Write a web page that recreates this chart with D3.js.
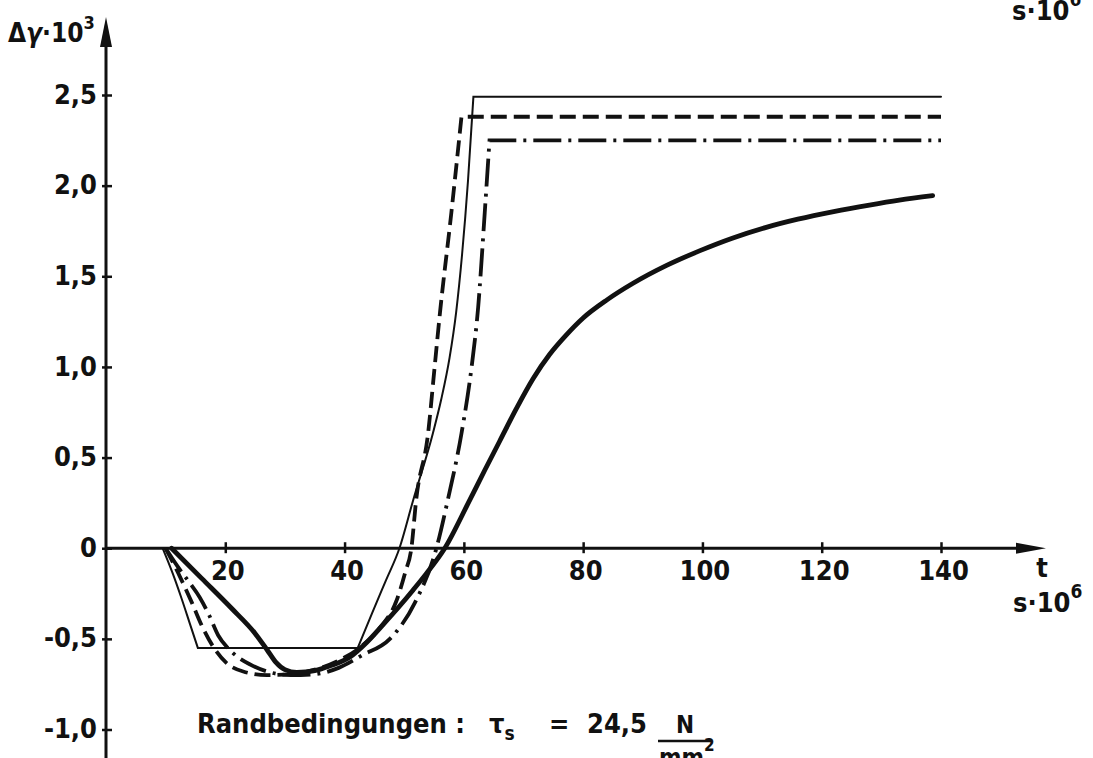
<!DOCTYPE html>
<html>
<head>
<meta charset="utf-8">
<script src="https://cdn.jsdelivr.net/npm/d3@7"></script>
<style>
  body { margin: 0; background: #fff; }
  svg text {
    font-family: "DejaVu Sans Condensed", "DejaVu Sans", sans-serif;
    font-stretch: condensed;
    font-weight: bold;
    fill: #111;
  }
</style>
</head>
<body>
<svg id="chart" width="1093" height="758"></svg>
<script>

// tick values
var xTicks = [20, 40, 60, 80, 100, 120, 140];
var yTicks = [-1.0, -0.5, 0, 0.5, 1.0, 1.5, 2.0, 2.5];

// curves: [t in s*10^6, dgamma*10^3], split into pieces at the sharp corners
var thinSolid = [
    [[9.5, 0], [11.2, -0.14], [12.7, -0.28], [14.1, -0.42], [15.4, -0.55]],
    [[15.4, -0.55], [42.2, -0.55]],
    [[42.2, -0.55], [44.6, -0.36], [46.9, -0.18], [49.2, 0], [51.5, 0.265], [54.8, 0.633],
     [56.2, 0.82], [57.6, 1.05], [58.7, 1.3], [59.7, 1.62], [60.7, 2.03], [61.6, 2.49]],
    [[61.6, 2.49], [140, 2.49]]
];

var dashed = [
    [[10, 0], [12, -0.13], [14.4, -0.30], [16.1, -0.43], [18.1, -0.55], [20.1, -0.63], [23, -0.68],
     [27, -0.70], [31, -0.695], [35, -0.67], [39, -0.62], [42.5, -0.55], [45.9, -0.44], [48.7, -0.29],
     [50.2, -0.13], [51.2, 0], [52.0, 0.265], [54.0, 0.633], [55.1, 1.0], [56.0, 1.3], [57.9, 1.85],
     [59.6, 2.38]],
    [[59.6, 2.38], [140, 2.38]]
];

var dashDot = [
    [[10, 0], [12, -0.1], [14, -0.19], [15.7, -0.27], [17.3, -0.37], [18.8, -0.48], [20.4, -0.55],
     [22.1, -0.6], [24.1, -0.64], [27, -0.68], [31, -0.70], [35, -0.695], [39, -0.66], [43, -0.59],
     [47.6, -0.50], [51.8, -0.30], [55.4, 0], [57.3, 0.265], [59.6, 0.633], [61.3, 1.0], [62.4, 1.33],
     [63.5, 1.85], [64.3, 2.25]],
    [[64.3, 2.25], [140, 2.25]]
];

var thickSolid = [
    [[11, 0], [16, -0.165], [21, -0.33], [25, -0.47], [27, -0.56], [28.5, -0.63], [30, -0.67],
     [32, -0.685], [35, -0.675], [37.5, -0.65], [40.9, -0.60], [43.7, -0.52], [46.5, -0.42],
     [49.2, -0.32], [51.5, -0.23], [53.7, -0.14], [56.8, 0], [60.6, 0.24], [63.5, 0.43], [66, 0.59],
     [68.8, 0.77], [71.6, 0.935], [74.4, 1.07], [77, 1.17], [80, 1.27], [84, 1.37], [88.3, 1.46],
     [94, 1.56], [99.5, 1.64], [105, 1.71], [110.7, 1.77], [116, 1.815], [122, 1.857], [128, 1.893],
     [133, 1.92], [138.6, 1.945]]
];

var svg = d3.select('#chart');
svg.append('rect').attr('width', 1093).attr('height', 758).attr('fill', '#fff');

var x = d3.scaleLinear().domain([0, 140]).range([106, 941]);
var y = d3.scaleLinear().domain([-1, 2.5]).range([729.5, 95]);

var comma = d3.formatLocale({decimal: ',', thousands: '.', grouping: [3], currency: ['', ''], minus: '-'});
var fmtY = function(v) { return v === 0 ? '0' : comma.format('.1f')(v); };

// ---- axes ----
var x0 = x(0), y0 = y(0);

var xAxis = svg.append('g')
    .attr('transform', 'translate(0,' + y0 + ')')
    .call(d3.axisBottom(x).tickValues(xTicks).tickSize(0).tickPadding(0));
xAxis.select('.domain').remove();
xAxis.selectAll('.tick line')
    .attr('y1', -6).attr('y2', 5)
    .attr('stroke', '#111').attr('stroke-width', 2.5);
xAxis.selectAll('.tick text')
    .attr('y', 32).attr('dy', 0)
    .attr('dx', 2)
    .style('font-size', '27px');

var yAxis = svg.append('g')
    .attr('transform', 'translate(' + x0 + ',0)')
    .call(d3.axisLeft(y).tickValues(yTicks).tickFormat(fmtY).tickSize(0).tickPadding(0));
yAxis.select('.domain').remove();
yAxis.selectAll('.tick line')
    .attr('x1', -4).attr('x2', 6)
    .attr('stroke', '#111').attr('stroke-width', 2.5);
yAxis.selectAll('.tick text')
    .attr('x', -9).attr('dy', '0.3em')
    .style('font-size', '27px');

// axis lines with arrow heads
svg.append('line')
    .attr('x1', x0).attr('x2', 1030).attr('y1', y0).attr('y2', y0)
    .attr('stroke', '#111').attr('stroke-width', 3);
svg.append('path')
    .attr('d', 'M1046,' + y0 + 'L1016,' + (y0 - 5.5) + 'L1016,' + (y0 + 5.5) + 'Z')
    .attr('fill', '#111');

svg.append('line')
    .attr('x1', x0).attr('x2', x0).attr('y1', 758).attr('y2', 40)
    .attr('stroke', '#111').attr('stroke-width', 3);
svg.append('path')
    .attr('d', 'M' + x0 + ',17L' + (x0 - 6) + ',47L' + (x0 + 6) + ',47Z')
    .attr('fill', '#111');

// ---- curves ----
var line = d3.line()
    .x(function(d) { return x(d[0]); })
    .y(function(d) { return y(d[1]); })
    .curve(d3.curveMonotoneX);

var pathOf = function(pieces) {
    return pieces.map(function(p, i) {
        var d = line(p);
        return i ? d.replace(/^M/, 'L') : d;
    }).join('');
};

var series = [
    {data: thinSolid, width: 2, dash: null},
    {data: dashed, width: 3.8, dash: '16,7'},
    {data: dashDot, width: 3.8, dash: '28,7,3,7'},
    {data: thickSolid, width: 4.8, dash: null}
];

svg.selectAll('.curve')
    .data(series)
    .enter()
    .append('path')
    .attr('class', 'curve')
    .attr('d', function(s) { return pathOf(s.data); })
    .attr('fill', 'none')
    .attr('stroke', '#111')
    .attr('stroke-width', function(s) { return s.width; })
    .attr('stroke-dasharray', function(s) { return s.dash; })
    .attr('stroke-linejoin', 'miter')
    .attr('stroke-linecap', function(s) { return s.dash ? 'butt' : 'round'; });

// ---- labels ----
var yl = svg.append('text').attr('x', 8).attr('y', 42).style('font-size', '26px');
yl.append('tspan').text('Δ');
yl.append('tspan').style('font-style', 'italic').text('γ');
yl.append('tspan').text('·10');
yl.append('tspan').attr('dy', -13).style('font-size', '18px').text('3');

var tr = svg.append('text').attr('x', 1012).attr('y', 20).style('font-size', '27px');
tr.append('tspan').text('s·10');
tr.append('tspan').attr('dy', -14).style('font-size', '19px').text('6');

svg.append('text').attr('x', 1042).attr('y', 577).attr('text-anchor', 'middle')
    .style('font-size', '27px').text('t');
var xu = svg.append('text').attr('x', 1013).attr('y', 612).style('font-size', '27px');
xu.append('tspan').text('s·10');
xu.append('tspan').attr('dy', -14).style('font-size', '19px').text('6');

// boundary condition note
svg.append('text').attr('x', 197).attr('y', 733).style('font-size', '27px')
    .text('Randbedingungen :');
var tau = svg.append('text').attr('x', 489).attr('y', 733).style('font-size', '27px');
tau.append('tspan').text('τ');
tau.append('tspan').attr('dy', 7).style('font-size', '19px').text('s');
svg.append('text').attr('x', 549).attr('y', 733).style('font-size', '27px').text('=');
svg.append('text').attr('x', 587).attr('y', 733).style('font-size', '27px').text('24,5');
svg.append('text').attr('x', 685).attr('y', 733).attr('text-anchor', 'middle')
    .style('font-size', '24px').text('N');
svg.append('line').attr('x1', 658).attr('x2', 712).attr('y1', 741).attr('y2', 741)
    .attr('stroke', '#111').attr('stroke-width', 2.5);
var mm = svg.append('text').attr('x', 659).attr('y', 766).style('font-size', '24px');
mm.append('tspan').text('mm');
mm.append('tspan').attr('dy', -15).style('font-size', '17px').text('2');

</script>
</body>
</html>
